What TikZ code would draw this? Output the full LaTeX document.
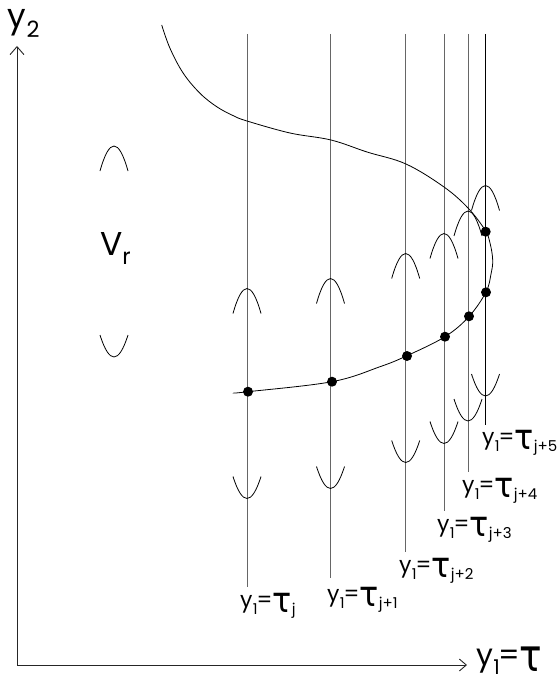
\documentclass[tikz,border=0pt]{standalone}
\usepackage{graphicx}
\usepackage{fontspec}
\setmainfont{Poppins}
\newfontfamily\dejavu{DejaVu Sans}
\usetikzlibrary{arrows.meta}
\newcommand\sbs[1]{\raisebox{-0.3em}{\scalebox{0.68}{#1}}}
\newcommand\tauch{\raisebox{-0.24em}{\scalebox{1.45}[1.6]{\dejavu τ}}}
\newcommand\tauB{\raisebox{-0.2em}{\scalebox{1.25}[1.5]{\dejavu τ}}}
\newcommand\tlabel[1]{y\kern0.02em\sbs{1}\kern-0.04em=\kern-0.02em\tauch\kern0.02em\sbs{#1}}
\newcommand\capat[2]{\draw[crv] (#1-14,#2+25) .. controls (#1-4.67,#2-8.33) and (#1+4.67,#2-8.33) .. (#1+14,#2+25);}
\newcommand\cupat[2]{\draw[crv] (#1-14,#2-22) .. controls (#1-4.67,#2+7.33) and (#1+4.67,#2+7.33) .. (#1+14,#2-22);}
\begin{document}
\begin{tikzpicture}[x=1pt,y=-1pt,
  every node/.style={inner sep=0pt, outer sep=0pt},
  vline/.style={draw=black!60, line width=1pt},
  crv/.style={draw=black, line width=0.8pt},
  axis/.style={draw=black!85, line width=0.9pt},
  dot/.style={circle, fill=black, minimum size=10pt, inner sep=0pt},
  small/.style={font=\fontsize{22}{24}\selectfont, anchor=base west},
  big/.style={font=\fontsize{33}{36}\selectfont, anchor=base west},
]
\useasboundingbox (0,0) rectangle (558,682);

% axes
\coordinate (O) at (17,665);
\coordinate (ytip) at (17,46);
\coordinate (xtip) at (467,665);
\draw[axis, -{Straight Barb[length=8pt,width=14pt]}] (O) -- (ytip);
\draw[axis, -{Straight Barb[length=7pt,width=12pt]}] (O) -- (xtip);
\node[big] (ylab) at (8,28) {y\sbs{2}};
\node[big, font=\fontsize{30}{33}\selectfont] (xlab) at (476,665) {y\kern0.02em\sbs{1}\kern-0.04em=\kern-0.03em\tauB};

% V_r
\node[big] (vr) at (100,255) {V\sbs{r}};
\capat{114}{146}
\cupat{114}{357}

% vertical lines
\foreach \n/\x/\b in {1/247/587, 2/330.5/578, 3/405.7/552, 4/444/511, 5/468/472}{
  \coordinate (t\n) at (\x,34);
  \coordinate (b\n) at (\x,\b);
  \draw[vline] (t\n) -- (b\n);
}
\coordinate (t6) at (485.5,34);
\coordinate (b6) at (485.5,425);
\draw[crv] (t6) -- (b6);

% caps and cups
\foreach \x/\c/\u in {247/288.5/498.5, 330.5/278.5/488.5, 405.7/253.5/462.5,
                      444/233.5/443.5, 468/211/421, 485.5/185.5/396}{
  \capat{\x}{\c}
  \cupat{\x}{\u}
}

% the curve
\draw[crv] plot[smooth, tension=0.6] coordinates {
  (161.7,25) (170,48.3) (183.3,73.3) (200,93.3) (216.7,106.7) (233.3,115.7)
  (247,121) (290,133) (331,140) (367,152)
  (406,164) (444,187) (468,208) (485,230) (490,243) (492.7,260) (491,274)
  (486,292) (469,316.5) (445,336.7) (407,355.7) (380,366.7) (332,381.7)
  (248,391.7) (234,393)};

% dots
\node[dot] (d0) at (485.7,231.7) {};
\node[dot] (d1) at (248,391.7) {};
\node[dot] (d2) at (332,381.7) {};
\node[dot] (d3) at (407,356) {};
\node[dot] (d4) at (445,336.7) {};
\node[dot] (d5) at (469,316.3) {};
\node[dot] (d6) at (486,292.3) {};

% labels
\node[small] (l1) at (240,607.5) {\tlabel{j}};
\node[small] (l2) at (327,601.5) {\tlabel{j+1}};
\node[small] (l3) at (399,572.5) {\tlabel{j+2}};
\node[small] (l4) at (437,531.5) {\tlabel{j+3}};
\node[small] (l5) at (462,492.5) {\tlabel{j+4}};
\node[small] (l6) at (482,444.5) {\tlabel{j+5}};
\end{tikzpicture}
\end{document}
